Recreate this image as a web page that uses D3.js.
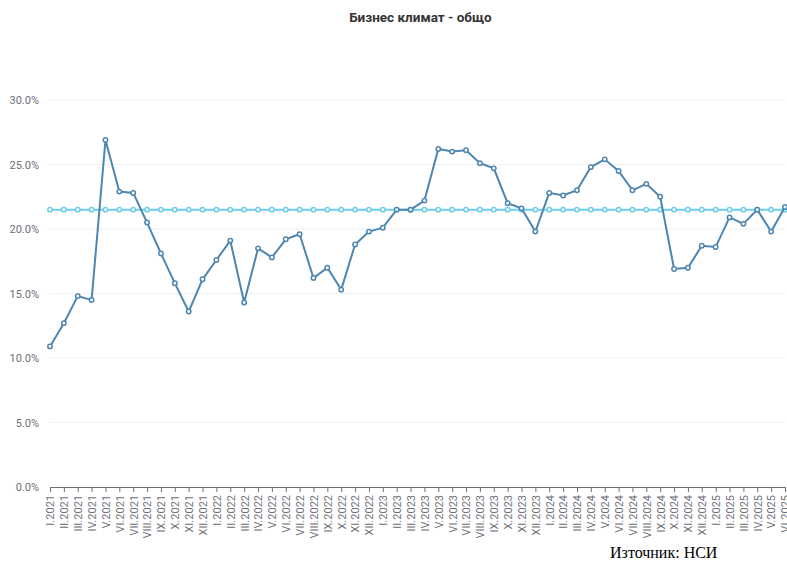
<!DOCTYPE html>
<html>
<head>
<meta charset="utf-8">
<script src="https://cdn.jsdelivr.net/npm/d3@7"></script>
<style>
  body { margin: 0; background: #fff; }
  svg { display: block; }
</style>
</head>
<body>
<div id="output"></div>
<script>
const months = ["I", "II", "III", "IV", "V", "VI", "VII", "VIII", "IX", "X", "XI", "XII"];
const years = [2021, 2022, 2023, 2024, 2025];
const lastMonthCount = 6;
const values = [
    10.9, 12.7, 14.8, 14.5, 26.9, 22.9, 22.8, 20.5, 18.1, 15.8, 13.6, 16.1,
    17.6, 19.1, 14.3, 18.5, 17.8, 19.2, 19.6, 16.2, 17.0, 15.3, 18.8, 19.8,
    20.1, 21.5, 21.5, 22.2, 26.2, 26.0, 26.1, 25.1, 24.7, 22.0, 21.6, 19.8,
    22.8, 22.6, 23.0, 24.8, 25.4, 24.5, 23.0, 23.5, 22.5, 16.9, 17.0, 18.7,
    18.6, 20.9, 20.4, 21.5, 19.8, 21.7
];
const average = 21.5;
const yTicks = [0, 5, 10, 15, 20, 25, 30];

const labels = [];
for (let y of years) {
    for (let i = 0; i < 12; i++) {
        if (y === 2025 && i >= lastMonthCount) break;
        labels.push(months[i] + "." + y);
    }
}
const data = labels.map((l, i) => ({ label: l, value: values[i], avg: average }));

const W = 787, H = 562;
const margin = { left: 50, right: 2, top: 100, bottom: 75 };
const lineColor = "#4c86b1";
const avgColor = "#6dcdea";
const labelColor = "#6e7079";

const svg = d3.select("#output").append("svg").attr("width", W).attr("height", H);

const x = d3.scalePoint().domain(labels).range([margin.left, W - margin.right]);
const y = d3.scaleLinear().domain([0, 30]).range([H - margin.bottom, margin.top]);

svg.append("text")
    .attr("x", W / 2 + 27)
    .attr("y", 22)
    .style("font-family", "Roboto")
    .style("font-weight", "bold")
    .style("font-size", "13.5px")
    .style("fill", "#333")
    .style("text-anchor", "middle")
    .text("Бизнес климат - общо");

// grid
svg.append("g")
    .selectAll("line")
    .data(yTicks.filter(t => t > 0))
    .join("line")
    .attr("x1", margin.left)
    .attr("x2", W - margin.right)
    .attr("y1", d => y(d))
    .attr("y2", d => y(d))
    .style("stroke", "#eef0f6")
    .style("stroke-width", 1);

// y axis labels
const yAxis = svg.append("g")
    .attr("transform", `translate(${margin.left - 8},0)`)
    .call(d3.axisLeft(y).tickValues(yTicks).tickFormat(d => d.toFixed(1) + "%").tickSize(0));
yAxis.select(".domain").remove();
yAxis.selectAll("text")
    .style("font-family", "Roboto")
    .style("font-size", "11px")
    .style("fill", labelColor);

// x axis
const xAxis = svg.append("g")
    .attr("transform", `translate(0,${y(0)})`)
    .call(d3.axisBottom(x).tickSize(5).tickSizeOuter(0));
xAxis.select(".domain").style("stroke", labelColor);
xAxis.selectAll(".tick line").style("stroke", labelColor);
xAxis.selectAll("text")
    .attr("transform", "rotate(-90)")
    .attr("x", -8)
    .attr("y", 0)
    .attr("dy", "0.35em")
    .style("text-anchor", "end")
    .style("font-family", "Roboto")
    .style("font-size", "11px")
    .style("fill", labelColor);

// average line
svg.append("path")
    .datum(data)
    .attr("d", d3.line().x(d => x(d.label)).y(d => y(d.avg)))
    .style("fill", "none")
    .style("stroke", avgColor)
    .style("stroke-width", 2);

svg.append("g")
    .selectAll("circle")
    .data(data)
    .join("circle")
    .attr("cx", d => x(d.label))
    .attr("cy", d => y(d.avg))
    .attr("r", 2.2)
    .style("fill", "white")
    .style("stroke", avgColor)
    .style("stroke-width", 1.5);

// main line
svg.append("path")
    .datum(data)
    .attr("d", d3.line().x(d => x(d.label)).y(d => y(d.value)))
    .style("fill", "none")
    .style("stroke", lineColor)
    .style("stroke-width", 2);

svg.append("g")
    .selectAll("circle")
    .data(data)
    .join("circle")
    .attr("cx", d => x(d.label))
    .attr("cy", d => y(d.value))
    .attr("r", 2.2)
    .style("fill", "white")
    .style("stroke", lineColor)
    .style("stroke-width", 1.5);

svg.append("text")
    .attr("x", 610)
    .attr("y", 558)
    .style("font-family", "Liberation Serif")
    .style("font-size", "16px")
    .style("fill", "#000")
    .text("Източник: НСИ");
</script>
</body>
</html>
